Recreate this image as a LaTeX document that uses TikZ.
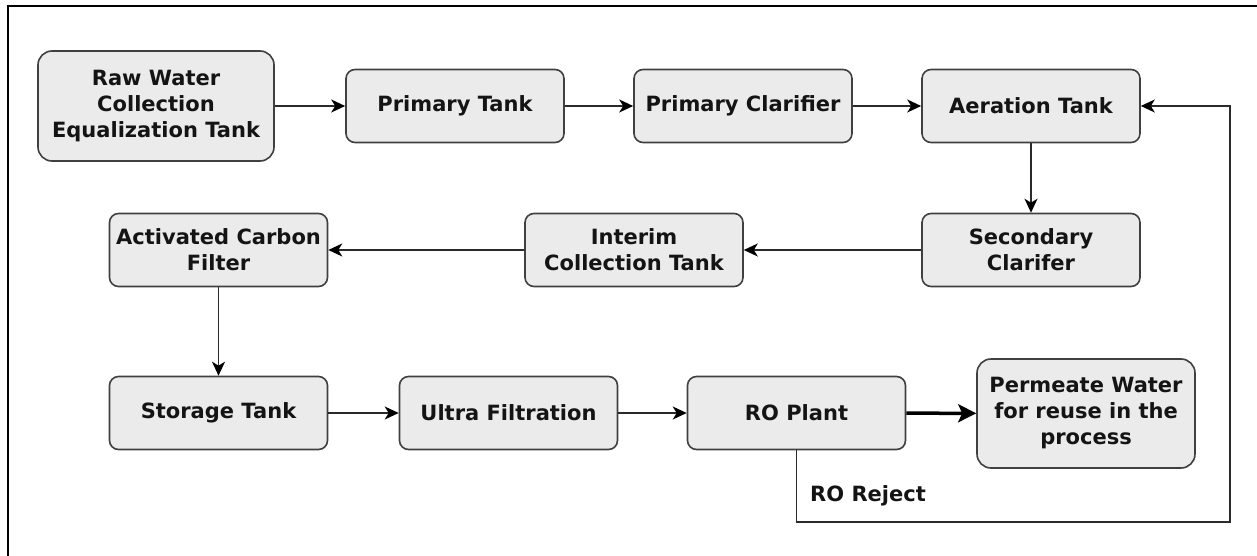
\documentclass[tikz,border=0pt]{standalone}
\usepackage{fontspec}
\setmainfont{DejaVu Sans}
\usetikzlibrary{arrows.meta}
\definecolor{boxfill}{HTML}{EBEBEB}
\definecolor{boxline}{HTML}{404040}
\definecolor{lnk}{HTML}{2A2A2A}
\tikzset{
  procbox/.style={draw=boxline, fill=boxfill, line width=1.6pt, rounded corners=9pt,
    minimum width=218pt, minimum height=73pt, inner sep=0pt, align=center,
    font=\fontsize{21}{26}\selectfont\bfseries, text=black!92},
  bigbox/.style={procbox, rounded corners=14pt},
  flow/.style={draw=lnk, line width=1.5pt, -{Stealth[length=14pt,width=13pt,inset=4pt,color=black]}},
  thickflow/.style={draw=black, line width=3.5pt, -{Stealth[length=18pt,width=18pt,inset=4pt]}},
  lbl/.style={font=\fontsize{21}{26}\selectfont\bfseries, text=black!92, inner sep=0pt}
}
\begin{document}
\begin{tikzpicture}[x=1pt,y=-1pt]
\useasboundingbox (0,0) rectangle (1257,556);
\fill[white] (0,0) rectangle (1257,556);
\draw[line width=2.5pt, black] (8,556) -- (8,6) -- (1257,6);
% top row
\node[bigbox, minimum width=236pt, minimum height=110pt] (raw) at (156,106) {Raw Water\\Collection\\Equalization Tank};
\node[procbox] (pt) at (455,106) {Primary Tank};
\node[procbox] (pc) at (743,106) {Primary Clarifier};
\node[procbox] (at) at (1031,106) {Aeration Tank};
% middle row
\node[procbox] (ac) at (218.5,250) {Activated Carbon\\Filter};
\node[procbox] (ic) at (634,250) {Interim\\Collection Tank};
\node[procbox] (sc) at (1031,250) {Secondary\\Clarifer};
% bottom row
\node[procbox] (st) at (218.5,413) {Storage Tank};
\node[procbox] (uf) at (508.5,413) {Ultra Filtration};
\node[procbox] (ro) at (796.5,413) {RO Plant};
\node[bigbox, minimum height=109pt] (pw) at (1086,413.5) {Permeate Water\\for reuse in the\\process};
% connectors
\draw[flow] (raw) -- (pt);
\draw[flow] (pt) -- (pc);
\draw[flow] (pc) -- (at);
\draw[flow] (at) -- (sc);
\draw[flow] (sc) -- (ic);
\draw[flow] (ic) -- (ac);
\draw[flow] (ac) -- (st);
\draw[flow] (st) -- (uf);
\draw[flow] (uf) -- (ro);
\draw[thickflow] (ro) -- (pw);
\coordinate (c1) at (796.5,522);
\coordinate (c2) at (1230,522);
\draw[flow] (ro.south) -- (c1) -- (c2) |- (at.east);
\node[lbl, anchor=west] (rej) at (810,496) {RO Reject};
\end{tikzpicture}
\end{document}
